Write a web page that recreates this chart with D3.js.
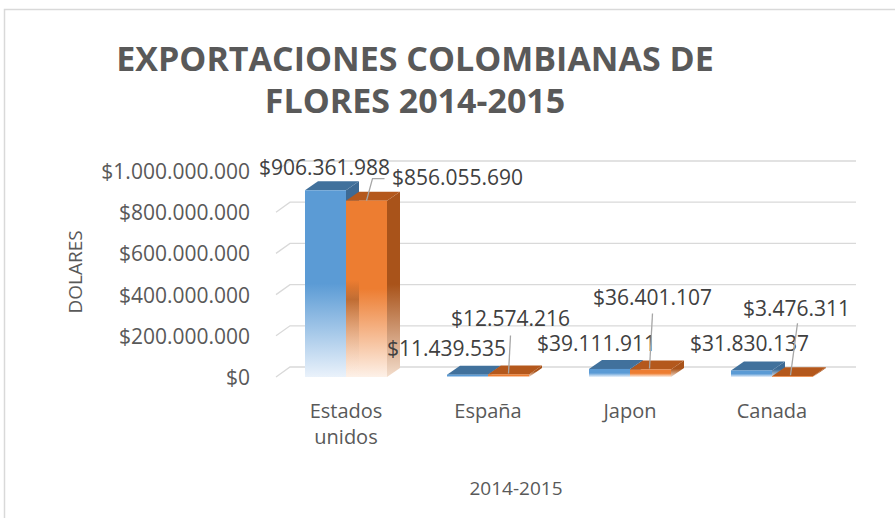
<!DOCTYPE html>
<html>
<head>
<meta charset="utf-8">
<script src="https://cdn.jsdelivr.net/npm/d3@7"></script>
<style>
  html, body { margin: 0; padding: 0; background: #fff; }
  svg { display: block; }
  text { font-family: "Open Sans", "Noto Sans", sans-serif; }
</style>
</head>
<body>
<svg id="chart" width="895" height="518"></svg>
<script>
// ---- data ----
const categories = ["Estados unidos", "España", "Japon", "Canada"];
const series = ["2014", "2015"];
const values2014 = [906361988, 11439535, 39111911, 31830137];
const values2015 = [856055690, 12574216, 36401107, 3476311];
const yTicks = [0, 200000000, 400000000, 600000000, 800000000, 1000000000];
const titleLines = ["EXPORTACIONES COLOMBIANAS DE", "FLORES 2014-2015"];
const yAxisTitle = "DOLARES";
const xAxisTitle = "2014-2015";

// ---- layout / style config (not data) ----
const colors = {
  front: ["#5b9bd5", "#ed7d31"],
  pale: ["#eaf2fb", "#fdf1e8"],
  top: ["#41719c", "#b4581c"],
  side: ["#3d6a94", "#a9531a"],
  sidePale: ["#dbe6f1", "#f3ddcc"],
  inner: ["#5b9bd5", "#b0622c"]
};
const depth = { dx: 13, dy: -9 };
const gridDepth = { dx: 14, dy: -10 };
// label offsets relative to bar top-centre [series][category]
const labelOffsets = [
  [[-1, -23], [-21, -27], [-13, -26], [-2, -27]],
  [[91, -24], [2, -56], [2, -73], [4, -68]]
];
// leader-line polylines relative to bar top-centre (null = none)
const leaders = [
  [null, null, null, null],
  [[[0, 0], [6, -22], [18, -22]], [[0, -1], [2, -39]], [[-1, -1], [2, -56]], [[-2, -1], [5, -53]]]
];

const svg = d3.select("#chart");

// chart border
svg.append("rect").attr("x", 4.5).attr("y", 9.5).attr("width", 1000).attr("height", 1000)
  .attr("fill", "#fff").attr("stroke", "#d9d9d9").attr("stroke-width", 1.5);

const x0 = d3.scaleBand().domain(categories).range([275, 843])
  .paddingInner(0.4225).paddingOuter(0.21125);
const x1 = d3.scaleBand().domain(series).range([0, x0.bandwidth()]);
const y = d3.scaleLinear().domain([0, 1000000000]).range([377, 171]);

const loc = d3.formatLocale({ decimal: ",", thousands: ".", grouping: [3], currency: ["$", ""] });
const fmt = loc.format("$,.0f");

// gradients for fading faces (relative to each bar)
const defs = svg.append("defs");
series.forEach((s, i) => {
  const mk = (id, c1, c2, mid) => {
    const g = defs.append("linearGradient").attr("id", id)
      .attr("x1", 0).attr("x2", 0).attr("y1", 0).attr("y2", 1);
    g.append("stop").attr("offset", 0).attr("stop-color", c1);
    g.append("stop").attr("offset", mid).attr("stop-color", c1);
    g.append("stop").attr("offset", 1).attr("stop-color", c2);
  };
  mk("gf" + i, colors.front[i], colors.pale[i], 0.5);
  mk("gs" + i, colors.side[i], colors.sidePale[i], 0.5);
  const gi = defs.append("linearGradient").attr("id", "gi" + i)
    .attr("x1", 0).attr("x2", 0).attr("y1", 0).attr("y2", 1);
  gi.append("stop").attr("offset", 0).attr("stop-color", colors.inner[i]).attr("stop-opacity", 0);
  gi.append("stop").attr("offset", 0.2).attr("stop-color", colors.inner[i]).attr("stop-opacity", 0.75);
  gi.append("stop").attr("offset", 1).attr("stop-color", colors.pale[i]).attr("stop-opacity", 0);
});

// gridlines (back wall + slanted left edge)
const grid = svg.append("g");
yTicks.forEach(t => {
  const yf = y(t), xb = 276;
  grid.append("path")
    .attr("d", `M${xb},${yf}L${xb + gridDepth.dx},${yf + gridDepth.dy}L856,${yf + gridDepth.dy}`)
    .attr("fill", "none").attr("stroke", "#d9d9d9").attr("stroke-width", 1.3);
});

// y tick labels
svg.append("g").selectAll("text").data(yTicks).join("text")
  .attr("x", 250).attr("y", d => y(d)).attr("text-anchor", "end")
  .attr("dominant-baseline", "central")
  .attr("font-size", 21).attr("fill", "#595959")
  .text(d => fmt(d));

// bars
const valuesBySeries = [values2014, values2015];
const bars = svg.append("g");
categories.forEach((c, ci) => {
  series.forEach((s, si) => {
    const v = valuesBySeries[si][ci];
    const xl = x0(c) + x1(s), xr = xl + x1.bandwidth();
    const yt = y(v), yb = y(0);
    const { dx, dy } = depth;
    const g = bars.append("g");
    // side face
    g.append("path").attr("d", `M${xr},${yb}L${xr + dx},${yb + dy}L${xr + dx},${yt + dy}L${xr},${yt}Z`)
      .attr("fill", `url(#gs${si})`);
    // top face
    g.append("path").attr("d", `M${xl},${yt}L${xl + dx},${yt + dy}L${xr + dx},${yt + dy}L${xr},${yt}Z`)
      .attr("fill", colors.top[si]);
    // front face
    g.append("rect").attr("x", xl).attr("y", yt).attr("width", xr - xl).attr("height", Math.max(0, yb - yt))
      .attr("fill", `url(#gf${si})`);
    // interior left face glimpsed through the faded lower part (orange only)
    if (si === 1 && yb - yt > 40) {
      const ym = yt + (yb - yt) * 0.45;
      g.append("path").attr("d", `M${xl},${ym}L${xl + dx},${ym}L${xl + dx},${yb}L${xl},${yb}Z`)
        .attr("fill", `url(#gi${si})`);
    }
  });
});

// data labels + leaders
const lab = svg.append("g");
categories.forEach((c, ci) => {
  series.forEach((s, si) => {
    const v = valuesBySeries[si][ci];
    const cx = x0(c) + x1(s) + x1.bandwidth() / 2;
    const ty = y(v);
    const ld = leaders[si][ci];
    if (ld) {
      lab.append("path").attr("d", d3.line()(ld.map(p => [cx + p[0], ty + p[1]])))
        .attr("fill", "none").attr("stroke", "#a6a6a6").attr("stroke-width", 1.3);
    }
    const o = labelOffsets[si][ci];
    lab.append("text").attr("x", cx + o[0]).attr("y", ty + o[1])
      .attr("text-anchor", "middle").attr("dominant-baseline", "central")
      .attr("font-size", 21).attr("fill", "#404040").text(fmt(v));
  });
});

// category labels
const catG = svg.append("g");
categories.forEach(c => {
  const words = c === "Estados unidos" ? ["Estados", "unidos"] : [c];
  words.forEach((w, wi) => {
    catG.append("text").attr("x", x0(c) + x0.bandwidth() / 2).attr("y", 410 + wi * 26)
      .attr("text-anchor", "middle").attr("dominant-baseline", "central")
      .attr("font-size", 20).attr("fill", "#595959").text(w);
  });
});

// axis titles
svg.append("text").attr("transform", "translate(75,272) rotate(-90)")
  .attr("text-anchor", "middle").attr("dominant-baseline", "central")
  .attr("font-size", 19).attr("fill", "#595959").text(yAxisTitle);
svg.append("text").attr("x", 516).attr("y", 488)
  .attr("text-anchor", "middle").attr("dominant-baseline", "central")
  .attr("font-size", 19).attr("fill", "#595959").text(xAxisTitle);

// title
titleLines.forEach((t, i) => {
  svg.append("text").attr("x", 415).attr("y", 71 + i * 42)
    .attr("text-anchor", "middle").attr("font-weight", "bold")
    .attr("font-size", 34).attr("fill", "#595959").text(t);
});
</script>
</body>
</html>
